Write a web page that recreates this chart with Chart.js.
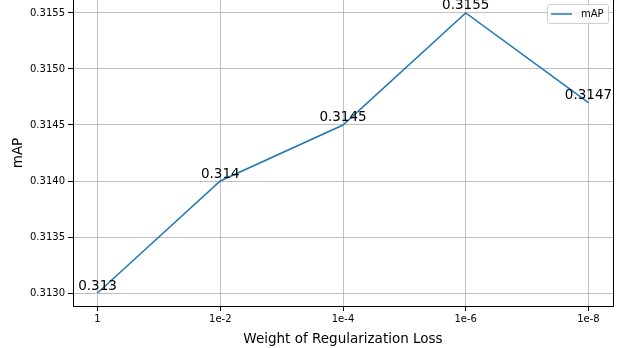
<!DOCTYPE html>
<html>
<head>
<meta charset="utf-8">
<script src="https://cdn.jsdelivr.net/npm/chart.js@4.4.1/dist/chart.umd.min.js"></script>
<style>
  html, body { margin: 0; padding: 0; background: #fff; }
  #wrap { width: 627px; height: 348px; }
</style>
</head>
<body>
<div id="wrap"><canvas id="c" width="627" height="348"></canvas></div>
<script>
// Regularization weights and the resulting mAP
const categories = ['1', '1e-2', '1e-4', '1e-6', '1e-8'];
const mapValues = [0.3130, 0.3140, 0.3145, 0.3155, 0.3147];
const valueLabels = ['0.313', '0.314', '0.3145', '0.3155', '0.3147'];
const yTicks = [0.3130, 0.3135, 0.3140, 0.3145, 0.3150, 0.3155];

const FONT = "'DejaVu Sans', sans-serif";
const LINE = '#1f77b4';

// Point annotations, right spine and legend box
const overlay = {
  id: 'overlay',
  afterDatasetsDraw(chart) {
    const { ctx, chartArea: a, scales: { x, y } } = chart;
    ctx.save();
    // right spine
    ctx.strokeStyle = '#000';
    ctx.lineWidth = 1;
    ctx.beginPath();
    ctx.moveTo(Math.round(a.right) + 0.5, a.top);
    ctx.lineTo(Math.round(a.right) + 0.5, a.bottom);
    ctx.stroke();

    // value text, centred just above each point
    ctx.fillStyle = '#000';
    ctx.font = '13.5px ' + FONT;
    ctx.textAlign = 'center';
    ctx.textBaseline = 'alphabetic';
    mapValues.forEach((v, i) => {
      ctx.fillText(valueLabels[i], x.getPixelForValue(i), y.getPixelForValue(v) - 3.5);
    });

    // legend
    const lx = 547, ly = 4, lw = 61, lh = 19;
    ctx.fillStyle = 'rgba(255,255,255,0.8)';
    ctx.strokeStyle = '#d0d0d0';
    ctx.lineWidth = 1;
    ctx.beginPath();
    ctx.roundRect(lx + 0.5, ly + 0.5, lw, lh, 2);
    ctx.fill();
    ctx.stroke();
    ctx.strokeStyle = LINE;
    ctx.lineWidth = 1.5;
    ctx.beginPath();
    ctx.moveTo(551, ly + 10);
    ctx.lineTo(572, ly + 10);
    ctx.stroke();
    ctx.fillStyle = '#000';
    ctx.font = '10px ' + FONT;
    ctx.textAlign = 'left';
    ctx.textBaseline = 'middle';
    ctx.fillText(chart.data.datasets[0].label, 581, ly + 10);
    ctx.restore();
  }
};

new Chart(document.getElementById('c'), {
  type: 'line',
  data: {
    datasets: [{
      label: 'mAP',
      data: mapValues.map((v, i) => ({ x: i, y: v })),
      borderColor: LINE,
      borderWidth: 1.5,
      pointRadius: 0,
      tension: 0,
      fill: false
    }]
  },
  options: {
    responsive: false,
    animation: false,
    devicePixelRatio: 1,
    layout: { padding: { left: 0, right: 14, top: 0, bottom: 0 } },
    plugins: { legend: { display: false }, tooltip: { enabled: false } },
    scales: {
      x: {
        type: 'linear',
        min: -0.2,
        max: 4.2,
        afterBuildTicks(s) { s.ticks = categories.map((_, i) => ({ value: i })); },
        afterFit(s) { s.height = 42; s.paddingLeft = 0; s.paddingRight = 0; },
        ticks: {
          callback: v => categories[v],
          color: '#000',
          font: { family: FONT, size: 10 },
          padding: 2,
          maxRotation: 0,
          autoSkip: false
        },
        grid: { color: '#b0b0b0', lineWidth: 0.8, tickColor: '#000', tickLength: 5, tickWidth: 1 },
        border: { display: true, color: '#000', width: 1 },
        title: {
          display: true,
          text: 'Weight of Regularization Loss',
          color: '#000',
          font: { family: FONT, size: 13.5 },
          padding: { top: 1, bottom: 0 }
        }
      },
      y: {
        min: 0.312884,
        max: 0.315616,
        afterBuildTicks(s) { s.ticks = yTicks.map(v => ({ value: v })); },
        afterFit(s) { s.width = 73; s.paddingTop = 0; s.paddingBottom = 0; },
        ticks: {
          callback: v => v.toFixed(4),
          color: '#000',
          font: { family: FONT, size: 10 },
          padding: 3
        },
        grid: { color: '#b0b0b0', lineWidth: 0.8, tickColor: '#000', tickLength: 5, tickWidth: 1 },
        border: { display: true, color: '#000', width: 1 },
        title: {
          display: true,
          text: 'mAP',
          color: '#000',
          font: { family: FONT, size: 13.5 },
          padding: { top: 10, bottom: 6 }
        }
      }
    }
  },
  plugins: [overlay]
});
</script>
</body>
</html>
